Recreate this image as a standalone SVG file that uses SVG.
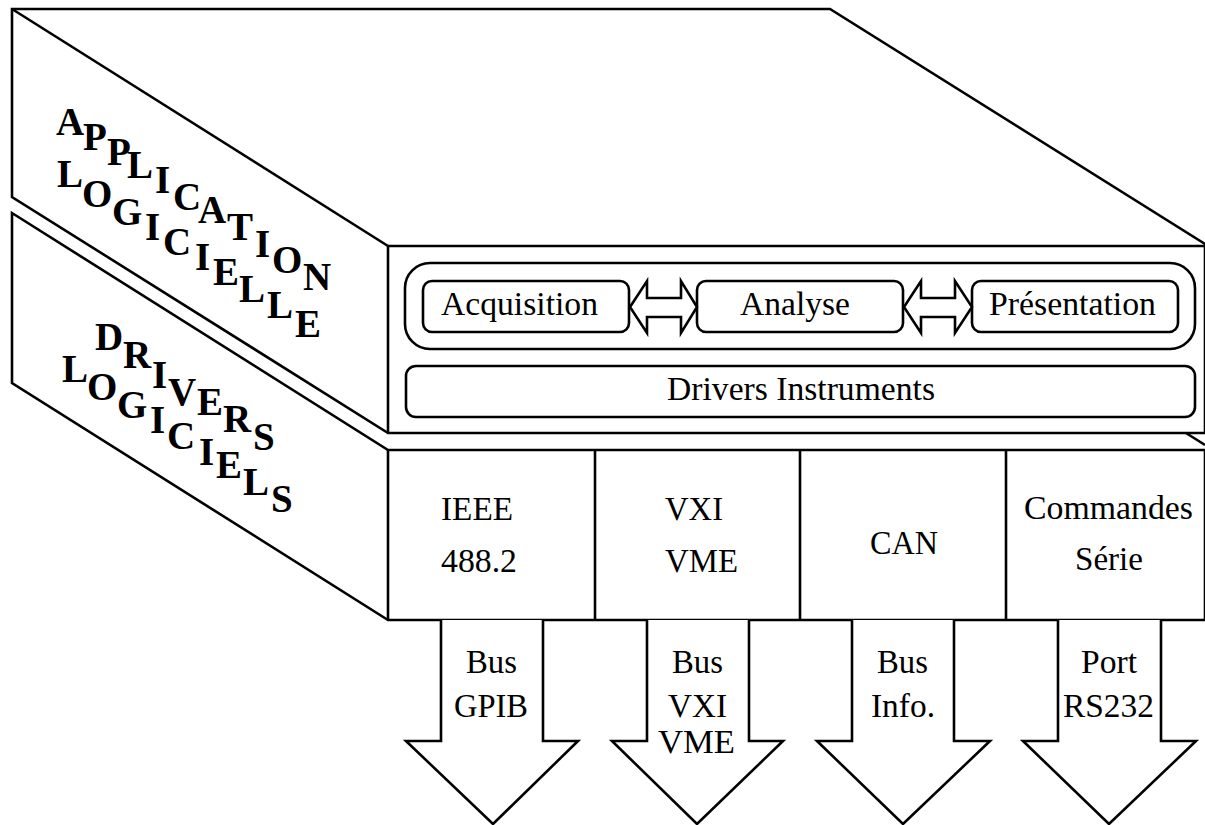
<svg xmlns="http://www.w3.org/2000/svg" width="1205" height="825" viewBox="0 0 1205 825">
<style>
.ln{fill:none;stroke:#000;stroke-width:2.6;stroke-linejoin:miter}
.fw{fill:#fff;stroke:#000;stroke-width:2.6;stroke-linejoin:miter}
.t{font-size:33px;fill:#000}
.c{text-anchor:middle}
.b{font-size:39px;font-weight:bold;fill:#000}
</style>
<rect width="1205" height="825" fill="#fff"/>
<g id="block-application">
<polygon class="fw" points="12,9 830,9 1205,244 1205,433 388,433 12,197"/>
<line class="ln" x1="12" y1="9" x2="388" y2="246"/>
<line class="ln" x1="388" y1="246" x2="1205" y2="246"/>
<line class="ln" x1="388" y1="246" x2="388" y2="433"/>
</g>
<g id="block-drivers">
<line class="ln" x1="1186" y1="433" x2="1205" y2="445"/>
<polygon class="fw" points="12,213 388,450 1205,450 1205,620 388,620 12,383"/>
<line class="ln" x1="388" y1="450" x2="388" y2="620"/>
</g>
<g font-family="'Liberation Serif', 'DejaVu Serif', 'Noto Serif', serif">
<g id="label-application">
<text class="b" x="56 83 107 127 155 173 198 227 255 272 303" y="135 150 165 178 193 210 223 240 257 273 290">APPLICATION</text>
<text class="b" x="57 82 112 145 163 195 213 239 267 295" y="187 207 225 240 255 270 285 302 318 337">LOGICIELLE</text>
</g>
<g id="label-drivers">
<text class="b" x="95 123 152 168 197 223 253" y="350 368 388 405 415 432 450">DRIVERS</text>
<text class="b" x="62 87 117 150 167 199 216 243 271" y="382 400 418 433 449 465 478 495 512">LOGICIELS</text>
</g>
<g id="group-process">
<rect class="ln" x="405" y="263" width="790" height="86" rx="25"/>
</g>
<g id="node-acquisition">
<rect class="ln" x="423" y="281" width="206" height="51" rx="9"/>
<text class="t" x="441" y="315" textLength="157" lengthAdjust="spacingAndGlyphs">Acquisition</text>
</g>
<g id="node-analyse">
<rect class="ln" x="697" y="281" width="206" height="51" rx="9"/>
<text class="t" x="740" y="315" textLength="110" lengthAdjust="spacingAndGlyphs">Analyse</text>
</g>
<g id="node-presentation">
<rect class="ln" x="972" y="281" width="206" height="51" rx="9"/>
<text class="t" x="989" y="315" textLength="167" lengthAdjust="spacingAndGlyphs">Présentation</text>
</g>
<g id="node-drivers-instruments">
<rect class="ln" x="406" y="366" width="789" height="51" rx="10"/>
<text class="t" x="667" y="400" textLength="268" lengthAdjust="spacingAndGlyphs">Drivers Instruments</text>
</g>
<g id="connectors">
<polygon class="fw" points="630,307 647,281 647,298 681,298 681,281 697,307 681,333 681,317 647,317 647,333"/>
<polygon class="fw" points="904,307 921,281 921,298 955,298 955,281 972,307 955,333 955,317 921,317 921,333"/>
<path class="fw" d="M441,620 V741 H406 L493,824 L578,741 H543 V620"/>
<path class="fw" d="M647,620 V741 H612 L697,824 L783,741 H749 V620"/>
<path class="fw" d="M852,620 V741 H817 L903,824 L990,741 H954 V620"/>
<path class="fw" d="M1058,620 V741 H1023 L1109,824 L1196,741 H1161 V620"/>
</g>
<g id="cell-ieee">
<text class="t" x="441" y="520" textLength="72" lengthAdjust="spacingAndGlyphs">IEEE</text>
<text class="t" x="441" y="572" textLength="76" lengthAdjust="spacingAndGlyphs">488.2</text>
</g>
<g id="cell-vxi">
<line class="ln" x1="595" y1="450" x2="595" y2="620"/>
<text class="t" x="665" y="520" textLength="58" lengthAdjust="spacingAndGlyphs">VXI</text>
<text class="t" x="665" y="572" textLength="73" lengthAdjust="spacingAndGlyphs">VME</text>
</g>
<g id="cell-can">
<line class="ln" x1="800" y1="450" x2="800" y2="620"/>
<text class="t" x="870" y="554" textLength="68" lengthAdjust="spacingAndGlyphs">CAN</text>
</g>
<g id="cell-commandes">
<line class="ln" x1="1006" y1="450" x2="1006" y2="620"/>
<text class="t" x="1024" y="519" textLength="169" lengthAdjust="spacingAndGlyphs">Commandes</text>
<text class="t" x="1075" y="570" textLength="68" lengthAdjust="spacingAndGlyphs">Série</text>
</g>
<g id="arrow-gpib">
<text class="t" x="466" y="673" textLength="51" lengthAdjust="spacingAndGlyphs">Bus</text>
<text class="t" x="454" y="717" textLength="74" lengthAdjust="spacingAndGlyphs">GPIB</text>
</g>
<g id="arrow-vxi">
<text class="t" x="672" y="673" textLength="51" lengthAdjust="spacingAndGlyphs">Bus</text>
<text class="t" x="668" y="717" textLength="59" lengthAdjust="spacingAndGlyphs">VXI</text>
<text class="t" x="658" y="753" textLength="77" lengthAdjust="spacingAndGlyphs">VME</text>
</g>
<g id="arrow-info">
<text class="t" x="877" y="673" textLength="51" lengthAdjust="spacingAndGlyphs">Bus</text>
<text class="t" x="871" y="717" textLength="64" lengthAdjust="spacingAndGlyphs">Info.</text>
</g>
<g id="arrow-rs232">
<text class="t" x="1081" y="673" textLength="56" lengthAdjust="spacingAndGlyphs">Port</text>
<text class="t" x="1063" y="717" textLength="91" lengthAdjust="spacingAndGlyphs">RS232</text>
</g>
</g>
</svg>
